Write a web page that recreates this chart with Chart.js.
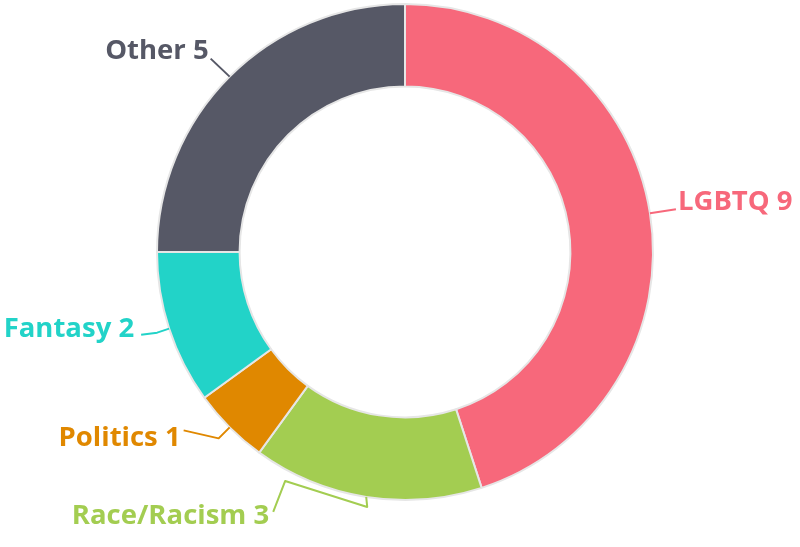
<!DOCTYPE html>
<html>
<head>
<meta charset="utf-8">
<style>
  html, body { margin: 0; padding: 0; background: #fff; }
  #wrap { width: 800px; height: 547px; }
</style>
<script src="https://cdn.jsdelivr.net/npm/chart.js@4"></script>
</head>
<body>
<div id="wrap"><canvas id="chart"></canvas></div>
<script>
// chart data
var categories = ['LGBTQ', 'Race/Racism', 'Politics', 'Fantasy', 'Other'];
var counts = [9, 3, 1, 2, 5];
var colors = ['#f7687b', '#a3cd51', '#e08800', '#22d3c8', '#565866'];

// leader line bends and label anchor, relative to the slice's outer mid point
var labelLayout = [
  { path: [[26, -4]], text: [28, -3], align: 'left' },
  { path: [[1, 10], [-81, -16], [-93, 15]], text: [-97, 27], align: 'right' },
  { path: [[-11, 11], [-46, 3]], text: [-49, 19], align: 'right' },
  { path: [[-12, 4], [-28, 6]], text: [-35, 8], align: 'right' },
  { path: [[-19, -18]], text: [-21, -18], align: 'right' }
];

var outLabels = {
  id: 'outLabels',
  afterDatasetsDraw: function (chart) {
    var ctx = chart.ctx;
    var meta = chart.getDatasetMeta(0);
    ctx.save();
    ctx.font = 'bold 27.5px "Open Sans", Lato, sans-serif';
    ctx.lineWidth = 2;
    ctx.lineJoin = 'round';
    meta.data.forEach(function (arc, i) {
      var p = arc.getProps(['x', 'y', 'startAngle', 'endAngle', 'outerRadius'], true);
      var mid = (p.startAngle + p.endAngle) / 2;
      var x0 = p.x + Math.cos(mid) * p.outerRadius;
      var y0 = p.y + Math.sin(mid) * p.outerRadius;
      var lay = labelLayout[i];
      ctx.strokeStyle = colors[i];
      ctx.beginPath();
      ctx.moveTo(x0, y0);
      lay.path.forEach(function (pt) { ctx.lineTo(x0 + pt[0], y0 + pt[1]); });
      ctx.stroke();
      ctx.fillStyle = colors[i];
      ctx.textAlign = lay.align;
      ctx.textBaseline = 'alphabetic';
      ctx.fillText(categories[i] + ' ' + counts[i], x0 + lay.text[0], y0 + lay.text[1]);
    });
    ctx.restore();
  }
};

new Chart(document.getElementById('chart'), {
  type: 'doughnut',
  data: {
    labels: categories,
    datasets: [{
      data: counts,
      backgroundColor: colors,
      borderColor: '#e6e6e6',
      borderWidth: 2
    }]
  },
  options: {
    responsive: true,
    maintainAspectRatio: false,
    animation: false,
    cutout: '66.7%',
    layout: { padding: { top: 3, left: 156, right: 146, bottom: 46 } },
    plugins: { legend: { display: false }, tooltip: { enabled: false } }
  },
  plugins: [outLabels]
});
</script>
</body>
</html>
